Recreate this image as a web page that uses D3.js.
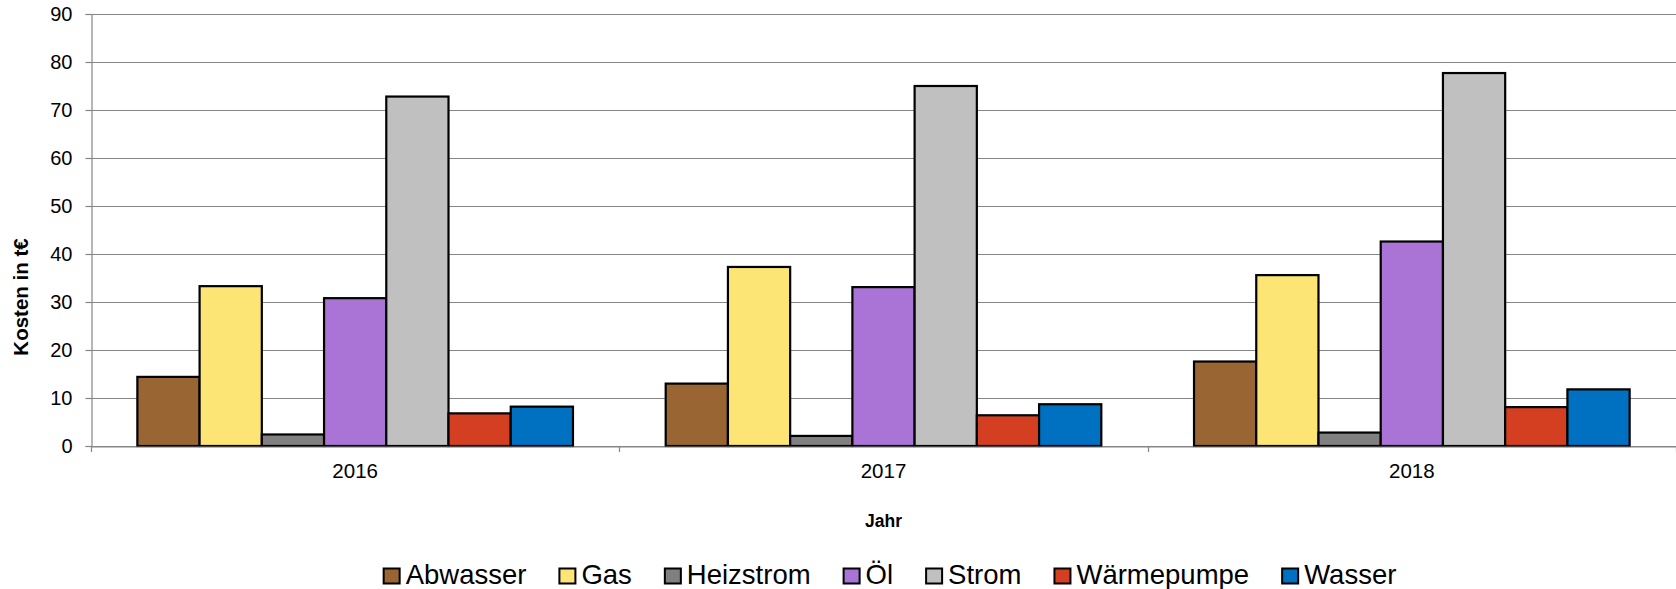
<!DOCTYPE html>
<html>
<head>
<meta charset="utf-8">
<script src="https://cdn.jsdelivr.net/npm/d3@7"></script>
<style>
  html, body { margin: 0; padding: 0; background: #fff; }
  svg { display: block; font-family: "Liberation Sans", Arial, sans-serif; }
</style>
</head>
<body>
<svg id="chart" width="1676" height="589"></svg>
<script>
const years = ["2016", "2017", "2018"];
const seriesNames = ["Abwasser", "Gas", "Heizstrom", "Öl", "Strom", "Wärmepumpe", "Wasser"];
const abwasser   = [14.4, 13.0, 17.6];
const gas        = [33.3, 37.3, 35.6];
const heizstrom  = [2.4, 2.1, 2.8];
const oel        = [30.8, 33.1, 42.6];
const strom      = [72.8, 75.0, 77.7];
const waermepumpe= [6.8, 6.4, 8.1];
const wasser     = [8.2, 8.7, 11.8];
const seriesColors = ["#996633", "#FCE475", "#808080", "#A974D5", "#C0C0C0", "#D53F21", "#0070C0"];
const yTicks = [0, 10, 20, 30, 40, 50, 60, 70, 80, 90];
const yTitle = "Kosten in t€";
const xTitle = "Jahr";

const seriesValues = [abwasser, gas, heizstrom, oel, strom, waermepumpe, wasser];

const svg = d3.select("#chart");
const mLeft = 91, mRight = 1676, mTop = 14, mBottom = 446;

const x0 = d3.scaleBand().domain(years).range([mLeft, mRight]).paddingInner(0).paddingOuter(0);
const x1 = d3.scaleBand().domain(seriesNames).range([0, x0.bandwidth()]).paddingInner(0).paddingOuter(0.745);
const y = d3.scaleLinear().domain([0, 90]).range([mBottom, mTop]);

// gridlines
svg.append("g").selectAll("line").data(yTicks).join("line")
  .attr("x1", mLeft).attr("x2", mRight)
  .attr("y1", d => Math.round(y(d)) + 0.5).attr("y2", d => Math.round(y(d)) + 0.5)
  .attr("stroke", "#868686").attr("stroke-width", 1.2);

// y axis
const yAxis = d3.axisLeft(y).tickValues(yTicks).tickSize(6).tickPadding(13);
const gy = svg.append("g").attr("transform", `translate(${mLeft + 0.5},0)`).call(yAxis);
gy.select(".domain").attr("stroke", "#868686").attr("stroke-width", 1.2);
gy.selectAll(".tick line").attr("stroke", "#868686").attr("stroke-width", 1.2);
gy.selectAll(".tick text").attr("font-size", "20px").attr("fill", "#000")
  .attr("font-family", "'Liberation Sans', Arial, sans-serif");

// bars
const data = [];
years.forEach((yr, i) => {
  seriesNames.forEach((s, j) => data.push({ year: yr, series: s, value: seriesValues[j][i], color: seriesColors[j] }));
});
svg.append("g").selectAll("rect").data(data).join("rect")
  .attr("x", d => x0(d.year) + x1(d.series))
  .attr("y", d => y(d.value))
  .attr("width", x1.bandwidth())
  .attr("height", d => y(0) - y(d.value))
  .attr("fill", d => d.color)
  .attr("stroke", "#000").attr("stroke-width", 2.2);

// x axis
const xAxis = d3.axisBottom(x0).tickSize(0).tickPadding(17);
const gx = svg.append("g").attr("transform", `translate(0,${mBottom + 0.5})`).call(xAxis);
gx.select(".domain").attr("stroke", "#868686").attr("stroke-width", 1.2);
gx.selectAll(".tick text").attr("font-size", "20.5px").attr("fill", "#000")
  .attr("font-family", "'Liberation Sans', Arial, sans-serif");
// category separator ticks
const seps = years.map(yr => x0(yr)).concat([mRight]);
svg.append("g").selectAll("line").data(seps).join("line")
  .attr("x1", d => Math.round(d) + 0.5).attr("x2", d => Math.round(d) + 0.5)
  .attr("y1", mBottom).attr("y2", mBottom + 6)
  .attr("stroke", "#868686").attr("stroke-width", 1.2);

// axis titles
svg.append("text")
  .attr("transform", `translate(28,297) rotate(-90)`)
  .attr("text-anchor", "middle")
  .attr("font-size", "20.5px").attr("font-weight", "bold")
  .text(yTitle);
svg.append("text")
  .attr("x", (mLeft + mRight) / 2).attr("y", 527)
  .attr("text-anchor", "middle")
  .attr("font-size", "17.5px").attr("font-weight", "bold")
  .text(xTitle);

// legend
const lg = svg.append("g");
const items = lg.selectAll("g").data(seriesNames).join("g");
items.append("rect")
  .attr("width", 16).attr("height", 15)
  .attr("y", 568.5)
  .attr("fill", (d, i) => seriesColors[i])
  .attr("stroke", "#000").attr("stroke-width", 2);
items.append("text")
  .attr("x", 22).attr("y", 584)
  .attr("font-size", "27.5px")
  .text(d => d);
let cx = 0;
const gap = 33;
items.each(function () {
  const w = 22 + d3.select(this).select("text").node().getComputedTextLength();
  d3.select(this).attr("transform", `translate(${cx},0)`);
  cx += w + gap;
});
const total = cx - gap;
lg.attr("transform", `translate(${890 - total / 2},0)`);
</script>
</body>
</html>
